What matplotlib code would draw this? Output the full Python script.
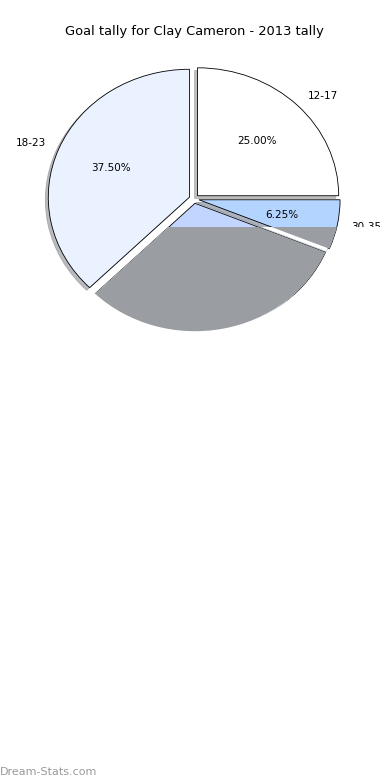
import matplotlib
matplotlib.use("Agg")
import matplotlib.pyplot as plt
from matplotlib import patches
from matplotlib.transforms import Bbox

labels = ["12-17", "30-35", "24-29", "18-23"]
values = [25.0, 6.25, 31.25, 37.5]
colors = ["#ffffff", "#b3d4ff", "#c2d5ff", "#eaf1ff"]
show_label = [True, True, False, True]

fig = plt.figure(figsize=(3.9, 7.8), dpi=100)
ax = fig.add_axes([0.045, 0.54, 0.905, 0.41])

shadow_off = -0.015
wedges, texts, autotexts = ax.pie(
    values, labels=[l if s else "" for l, s in zip(labels, show_label)],
    colors=colors, explode=[0.035] * 4, startangle=90, counterclock=False,
    shadow=dict(ox=shadow_off, oy=shadow_off, shade=0.5),
    autopct=lambda p: "%.2f%%" % p if p < 30 or p > 35 else "",
    wedgeprops=dict(edgecolor="black", linewidth=0.6),
    textprops=dict(fontsize=7.5))
ax.set_aspect("auto")
ax.set_xlim(-1.25, 1.25)
ax.set_ylim(-1.25, 1.25)

# lower band of the picture is greyed out for the right-hand slices
cut_px = 780 - 227
low = Bbox.from_extents(0, 0, 390, cut_px)
high = Bbox.from_extents(0, cut_px, 390, 780)
shadows = [p for p in ax.patches if isinstance(p, patches.Shadow)]
for s in shadows:
    if s.patch is wedges[2]:
        s.set_visible(False)

d = shadow_off * 100 / 72
for i in (1, 2):
    w = wedges[i]
    cx, cy = w.center
    wipe = patches.Wedge((cx + d, cy + d), w.r, w.theta1, w.theta2,
                         facecolor="white", edgecolor="none", zorder=4.9)
    ax.add_patch(wipe)
    wipe.set_clip_box(low)
    g = patches.Wedge(w.center, w.r, w.theta1, w.theta2,
                      facecolor="#9a9da1", edgecolor="none", zorder=5)
    ax.add_patch(g)
    g.set_clip_box(low)
texts[1].set_clip_box(high)
texts[1].set_clip_on(True)

ax.set_title("Goal tally for Clay Cameron - 2013 tally", fontsize=9.4, pad=3)
fig.text(0.0, 0.004, "Dream-Stats.com", fontsize=8, color="#9a9a9a",
         ha="left", va="bottom")

fig.savefig("out.png", dpi=100)
